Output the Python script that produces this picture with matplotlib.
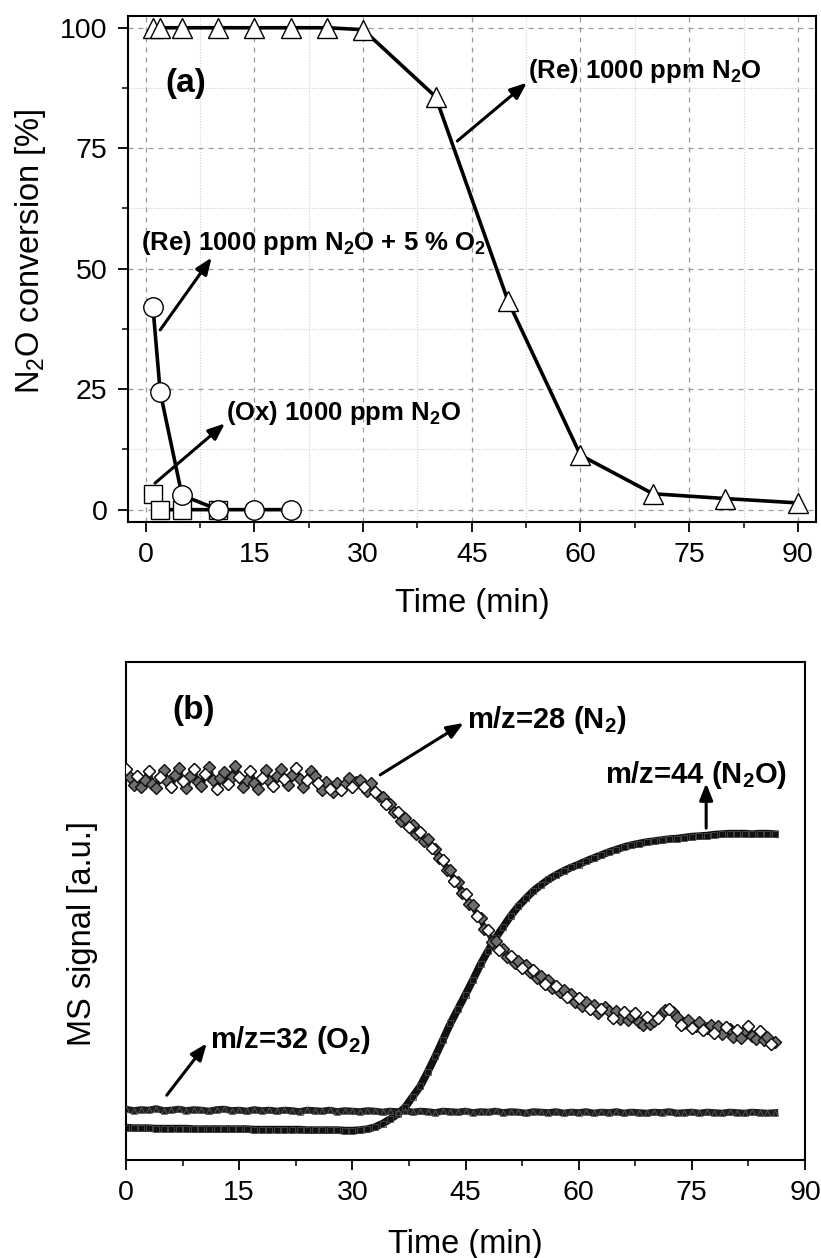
import matplotlib
matplotlib.use("Agg")
import matplotlib.pyplot as plt
from matplotlib.ticker import MultipleLocator

plt.rcParams['font.family'] = ['Liberation Sans', 'DejaVu Sans']
plt.rcParams['mathtext.fontset'] = 'custom'
plt.rcParams['mathtext.rm'] = 'Liberation Sans'
plt.rcParams['mathtext.bf'] = 'Liberation Sans:bold'
plt.rcParams['mathtext.default'] = 'regular'

# ---------------- Panel (a) data ----------------
t_re = [1, 2, 5, 10, 15, 20, 25, 30, 40, 50, 60, 70, 80, 90]
conv_re = [100, 100, 100, 100, 100, 100, 100, 99.6, 85.7, 43.3, 11.3, 3.3, 2.3, 1.4]

t_re_o2 = [1, 2, 5, 10, 15, 20]
conv_re_o2 = [42.0, 24.4, 3.0, 0.0, 0.0, 0.0]

t_ox = [1, 2, 5, 10]
conv_ox = [3.3, 0.0, 0.0, 0.0]

xticks_a = [0, 15, 30, 45, 60, 75, 90]
yticks_a = [0, 25, 50, 75, 100]

# ---------------- Panel (b) data ----------------
t_n2 = [i * 0.5 for i in range(173)]
ms_n2 = [
    78.5, 76.8, 75.2, 77.0, 74.9, 76.3, 78.0, 75.5, 74.6, 76.9,
    78.2, 76.0, 74.8, 77.2, 78.6, 76.1, 74.7, 77.0, 78.4, 75.8,
    75.0, 77.5, 78.8, 76.3, 74.5, 76.6, 77.8, 75.4, 76.9, 79.0,
    76.8, 74.9, 76.2, 78.0, 75.6, 74.4, 76.7, 78.3, 76.0, 75.1,
    77.0, 78.5, 76.4, 75.3, 77.2, 78.6, 76.5, 74.8, 76.3, 78.1,
    77.0, 75.6, 74.2, 75.9, 74.5, 73.9, 75.7, 74.3, 75.5, 76.6,
    74.8, 75.9, 76.2, 74.9, 74.0, 75.6, 73.9, 73.0, 72.9, 71.4,
    71.5, 69.8, 69.9, 68.0, 68.6, 66.9, 67.3, 65.5, 65.9, 64.0,
    64.4, 62.6, 62.5, 60.6, 60.3, 58.2, 58.1, 56.0, 55.8, 53.6,
    53.4, 51.4, 51.1, 49.0, 48.6, 46.4, 46.1, 43.8, 44.0, 42.1,
    42.3, 40.7, 41.0, 39.6, 40.0, 38.5, 39.2, 37.7, 38.1, 36.5,
    36.9, 35.4, 36.1, 34.5, 35.0, 33.7, 34.1, 32.8, 33.4, 31.8,
    32.5, 31.0, 31.7, 30.3, 31.1, 29.5, 30.3, 30.8, 29.9, 28.5,
    29.9, 28.3, 29.7, 28.1, 28.8, 29.4, 27.6, 27.1, 28.7, 27.3,
    27.9, 28.5, 29.4, 30.1, 30.4, 29.8, 28.7, 27.0, 27.5, 28.1,
    26.4, 26.9, 27.6, 26.0, 26.5, 27.1, 25.4, 26.8, 25.2, 26.7,
    26.3, 24.7, 26.1, 24.5, 26.0, 26.8, 24.9, 24.3, 25.8, 24.1,
    24.6, 23.2, 23.6,
]

t_1min = list(range(87))
ms_n2o = [
    6.5, 6.4, 6.4, 6.4, 6.3, 6.3, 6.3, 6.3, 6.3, 6.2,
    6.2, 6.2, 6.2, 6.2, 6.2, 6.2, 6.2, 6.1, 6.1, 6.1,
    6.1, 6.1, 6.1, 6.1, 6.0, 6.0, 6.0, 6.0, 6.0, 5.9,
    5.9, 6.0, 6.2, 6.6, 7.3, 8.2, 9.2, 10.6, 12.7, 14.8,
    17.7, 20.8, 24.1, 27.4, 30.3, 33.2, 36.2, 39.3, 42.0, 44.6,
    46.8, 49.0, 50.9, 52.5, 54.0, 55.2, 56.3, 57.2, 58.0, 58.7,
    59.3, 60.0, 60.6, 61.2, 61.8, 62.3, 62.8, 63.2, 63.5, 63.8,
    64.0, 64.2, 64.4, 64.5, 64.7, 64.9, 65.0, 65.1, 65.3, 65.4,
    65.5, 65.5, 65.5, 65.4, 65.5, 65.5, 65.4,
]
ms_o2 = [
    10.2, 9.9, 10.1, 10.0, 10.3, 9.9, 10.0, 10.2, 9.9, 10.1,
    10.0, 9.8, 10.1, 10.2, 9.9, 10.0, 9.8, 10.1, 9.9, 10.0,
    9.8, 10.0, 9.9, 9.7, 10.0, 9.9, 9.8, 10.0, 9.7, 9.9,
    9.8, 9.7, 9.9, 9.8, 9.6, 9.8, 9.7, 9.9, 9.6, 9.8,
    9.7, 9.5, 9.8, 9.7, 9.6, 9.8, 9.5, 9.7, 9.6, 9.8,
    9.5, 9.7, 9.6, 9.4, 9.7, 9.6, 9.5, 9.7, 9.4, 9.6,
    9.5, 9.7, 9.4, 9.6, 9.5, 9.7, 9.4, 9.6, 9.5, 9.4,
    9.6, 9.5, 9.7, 9.4, 9.5, 9.6, 9.4, 9.6, 9.5, 9.4,
    9.6, 9.5, 9.4, 9.6, 9.5, 9.4, 9.5,
]
xticks_b = [0, 15, 30, 45, 60, 75, 90]

W, H = 821, 1258
fig = plt.figure(figsize=(W / 100, H / 100), dpi=100)


def fx(px):
    return px / W


def fy(py):
    return 1 - py / H


TICK_FS = 20.5
LABEL_FS = 23.5
ANN_FS_A = 18.5
ANN_FS_B = 21
PANEL_FS = 24

# ---------- Panel (a) ----------
ax1 = fig.add_axes([fx(127.6), fy(521.7), fx(816 - 127.6), (521.7 - 15.7) / H])
ax1.set_xlim(-2.5, 92.5)
ax1.set_ylim(-2.5, 102.5)
ax1.xaxis.set_major_locator(MultipleLocator(15))
ax1.xaxis.set_minor_locator(MultipleLocator(7.5))
ax1.yaxis.set_major_locator(MultipleLocator(25))
ax1.yaxis.set_minor_locator(MultipleLocator(12.5))
ax1.set_xticks(xticks_a)
ax1.set_yticks(yticks_a)
ax1.grid(which='major', color='#9a9a9a', linestyle=(0, (4, 4)), linewidth=0.9)
ax1.grid(which='minor', color='#cfcfcf', linestyle=(0, (1, 1.5)), linewidth=0.8)
ax1.set_axisbelow(True)

line_kw = dict(color='black', linewidth=2.6, markerfacecolor='white',
               markeredgecolor='black', markeredgewidth=1.0, zorder=3)
ax1.plot(t_re, conv_re, marker='^', markersize=15, **line_kw)
ax1.plot(t_ox, conv_ox, marker='s', markersize=12.5, **line_kw)
ax1.plot(t_re_o2, conv_re_o2, marker='o', markersize=14, **line_kw)

ax1.tick_params(which='major', direction='out', length=7.5, width=1.3,
                labelsize=TICK_FS, pad=7, top=False, right=False)
ax1.tick_params(which='minor', direction='out', length=4, width=1.1,
                top=False, right=False)
for s in ax1.spines.values():
    s.set_linewidth(1.5)

arrow_kw = dict(arrowstyle='-|>,head_length=0.5,head_width=0.2', lw=2.2,
                color='black', shrinkA=0, shrinkB=0, mutation_scale=20)

ax1.text(2.66, 88.5, '(a)', fontsize=PANEL_FS, fontweight='bold',
         ha='left', va='center')
ax1.text(52.7, 91.0, r'(Re) 1000 ppm N$_2$O', fontsize=ANN_FS_A,
         fontweight='bold', ha='left', va='center')
ax1.annotate('', xy=(52.6, 88.6), xytext=(43.0, 76.5), arrowprops=arrow_kw)
ax1.text(-0.65, 55.3, r'(Re) 1000 ppm N$_2$O + 5 % O$_2$', fontsize=ANN_FS_A,
         fontweight='bold', ha='left', va='center')
ax1.annotate('', xy=(9.1, 52.3), xytext=(2.0, 37.3), arrowprops=arrow_kw)
ax1.text(11.1, 20.0, r'(Ox) 1000 ppm N$_2$O', fontsize=ANN_FS_A,
         fontweight='bold', ha='left', va='center')
ax1.annotate('', xy=(10.94, 17.9), xytext=(1.28, 5.5), arrowprops=arrow_kw)

fig.text(fx(30), fy(251), r'N$_2$O conversion [%]', fontsize=LABEL_FS,
         rotation=90, ha='center', va='center')
fig.text(fx(472), fy(603), 'Time (min)', fontsize=LABEL_FS,
         ha='center', va='center')

# ---------- Panel (b) ----------
ax2 = fig.add_axes([fx(126), fy(1160), fx(805 - 126), (1160 - 661.7) / H])
ax2.set_xlim(0, 90)
ax2.set_ylim(0, 100)
ax2.set_xticks(xticks_b)
ax2.xaxis.set_minor_locator(MultipleLocator(7.5))
ax2.set_yticks([])
ax2.tick_params(axis='x', which='major', direction='out', length=7.5, width=1.3,
                labelsize=TICK_FS, pad=7)
ax2.tick_params(axis='x', which='minor', direction='out', length=4, width=1.1)
for s in ax2.spines.values():
    s.set_linewidth(1.5)

# O2 (triangles)
ax2.plot(t_1min, ms_o2, color='#1e1e1e', linewidth=5.0, zorder=2)
ax2.plot(t_1min, ms_o2, linestyle='none', marker='^', markersize=4.5,
         markerfacecolor='none', markeredgecolor='#5a5a5a', markeredgewidth=0.6,
         zorder=3)
# N2O (squares)
ax2.plot(t_1min, ms_n2o, color='#111111', linewidth=5.5, zorder=2)
ax2.plot(t_1min, ms_n2o, linestyle='none', marker='s', markersize=4.5,
         markerfacecolor='none', markeredgecolor='#4a4a4a', markeredgewidth=0.6,
         zorder=3)
# N2 (diamonds)
ax2.plot(t_n2, ms_n2, color='#2a2a2a', linewidth=4.0, zorder=4)
ax2.plot(t_n2, ms_n2, linestyle='none', marker='D', markersize=6.5,
         markerfacecolor='#6e6e6e', markeredgecolor='#111111',
         markeredgewidth=1.0, zorder=5)
ax2.plot(t_n2[::3], ms_n2[::3], linestyle='none', marker='D', markersize=6.5,
         markerfacecolor='white', markeredgecolor='#111111',
         markeredgewidth=1.0, zorder=6)

ax2.text(6.1, 90.3, '(b)', fontsize=PANEL_FS, fontweight='bold',
         ha='left', va='center')
ax2.text(45.2, 88.3, r'm/z=28 (N$_2$)', fontsize=ANN_FS_B, fontweight='bold',
         ha='left', va='center')
ax2.annotate('', xy=(44.75, 87.7), xytext=(33.7, 77.3), arrowprops=arrow_kw)
ax2.text(63.5, 77.3, r'm/z=44 (N$_2$O)', fontsize=ANN_FS_B, fontweight='bold',
         ha='left', va='center')
ax2.annotate('', xy=(76.9, 75.6), xytext=(76.9, 66.6), arrowprops=arrow_kw)
ax2.text(11.2, 24.1, r'm/z=32 (O$_2$)', fontsize=ANN_FS_B, fontweight='bold',
         ha='left', va='center')
ax2.annotate('', xy=(10.7, 23.4), xytext=(5.4, 13.0), arrowprops=arrow_kw)

fig.text(fx(82), fy(934), 'MS signal [a.u.]', fontsize=LABEL_FS,
         rotation=90, ha='center', va='center')
fig.text(fx(465), fy(1245), 'Time (min)', fontsize=LABEL_FS,
         ha='center', va='center')

fig.savefig('out.png', dpi=100)
